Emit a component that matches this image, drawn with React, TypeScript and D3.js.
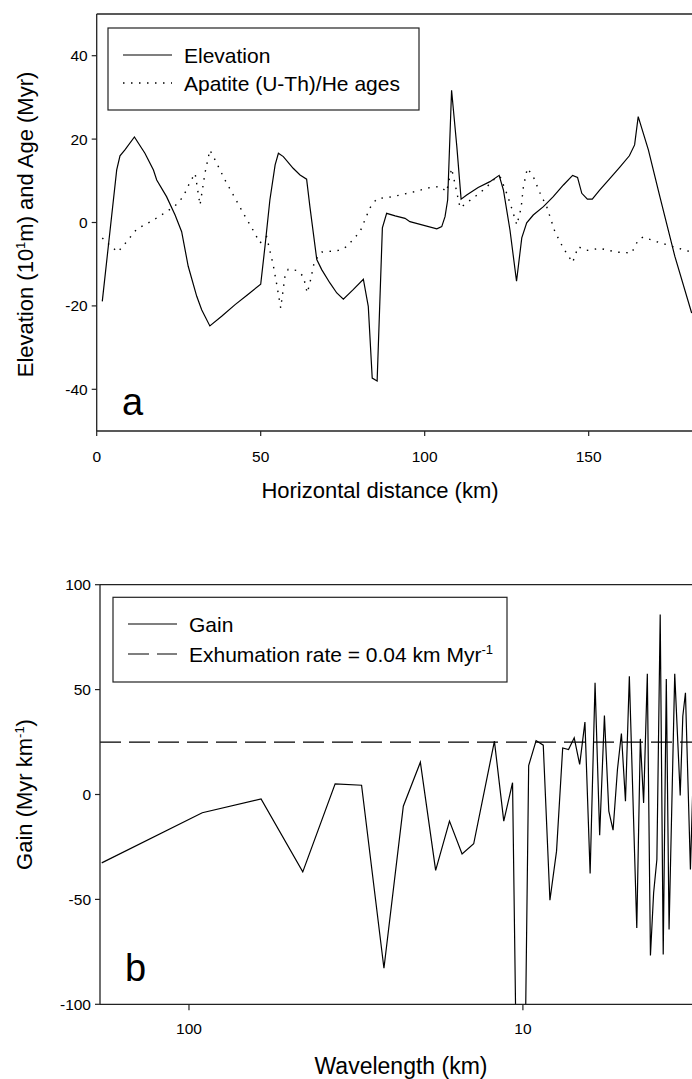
import React from 'react';
import * as d3 from 'd3';

// panel a: elevation profile (10^1 m) and apatite (U-Th)/He ages (Myr) vs distance (km)
const elevDistance = [1.7, 6.1, 7.1, 8.6, 11.5, 14.7, 17.3, 18.3, 21.3, 23.9, 25.9, 27.9, 30.5, 32, 34.5, 38.1, 42.2, 46.2, 50, 51.3, 52.8, 54.4, 55.4, 56.9, 59.9, 62, 64, 65, 67.1, 68.6, 71.1, 73.2, 75.2, 78.2, 81.3, 82.8, 84, 85.5, 87.1, 88.4, 91, 94, 95.5, 103.7, 105.2, 106.2, 107, 108.2, 109.8, 111.1, 112.8, 116.3, 119.9, 122.7, 124, 126, 128, 129.6, 131.1, 133.1, 136.2, 139.2, 142.3, 145.1, 146.6, 147.9, 149.6, 151.1, 153.4, 156.5, 159.5, 162.4, 164, 165.1, 168.2, 171.7, 176.3, 181.4];
const elevation = [-18.9, 12.6, 16.0, 17.4, 20.5, 16.6, 12.6, 10.2, 6.2, 1.8, -2.2, -10.5, -17.7, -20.9, -24.8, -22.5, -19.7, -17.2, -14.8, -5.8, 5.4, 13.8, 16.6, 15.8, 13, 11.4, 10.4, 3.8, -8.9, -11.3, -14.5, -16.9, -18.4, -16.1, -13.6, -20.1, -37.3, -38, -1.3, 2.2, 1.6, 1.0, 0.2, -1.5, -1.0, 1.4, 5.4, 31.7, 18.2, 5.6, 6.6, 8.4, 9.8, 11.3, 7.8, -1.8, -14.1, -3.7, -0.1, 1.8, 3.8, 6.2, 9, 11.3, 10.8, 7.0, 5.6, 5.6, 7.8, 10.6, 13.3, 16, 18.6, 25.4, 17.4, 6.2, -8.2, -21.7];

const ageDistance = [1.7, 4.1, 6.4, 8.4, 12.2, 17.3, 21.3, 23.9, 26.4, 28.4, 30, 31.5, 33, 34.5, 36.1, 39.1, 42.2, 44.7, 47.3, 49.8, 51.8, 53.8, 54.9, 56.1, 57.4, 58.4, 61, 63, 64.2, 65, 66.4, 68.6, 73.7, 76.2, 80.3, 83.3, 85.4, 90.4, 92.5, 97, 102.1, 104.7, 106.7, 108.2, 109.2, 110.8, 113.3, 116, 118.9, 120.9, 123, 125, 126.5, 128.1, 129.4, 130.1, 131.3, 133.1, 135.2, 137.2, 139.7, 142.3, 145.1, 146.8, 149.4, 153.4, 158.5, 163.1, 165.1, 166.6, 170.7, 175.8, 181.4];
const ages = [-3.7, -5.5, -7.1, -5.3, -1.6, 0.6, 2.6, 4, 6.2, 9.6, 11.8, 4.2, 11.8, 17.4, 15, 10.2, 5.8, 2.2, -1.3, -4.9, -3.4, -10.1, -14.9, -20.5, -12.9, -11.2, -11.5, -12.9, -16.9, -14.5, -9.3, -7.1, -6.7, -5.8, -2.2, 3.5, 5.7, 6.2, 6.6, 7.4, 8.5, 8.6, 7.4, 13.0, 9.4, 3.5, 5, 6.6, 8.5, 10.2, 11.0, 7.0, 3.5, -0.6, 3.5, 8.6, 13.0, 11, 7.0, 3.8, -2.2, -6.2, -9.6, -5.8, -6.7, -6.2, -7.1, -7.3, -4.2, -3.5, -4.6, -5.8, -7.1];

// panel b: gain (Myr km^-1) vs wavelength (km)
const wavelength = [182.5, 91.25, 60.83, 45.63, 36.5, 30.42, 26.07, 22.81, 20.28, 18.25, 16.59, 15.21, 14.04, 12.17, 11.41, 10.74, 10.14, 9.61, 9.13, 8.69, 8.30, 7.93, 7.60, 7.30, 7.02, 6.76, 6.52, 6.29, 6.08, 5.89, 5.70, 5.53, 5.37, 5.21, 5.07, 4.93, 4.80, 4.56, 4.45, 4.35, 4.24, 4.15, 4.06, 3.97, 3.88, 3.80, 3.72, 3.65, 3.51, 3.38, 3.32, 3.26, 3.15, 3.09];
const gain = [-32.6, -8.7, -2.1, -36.9, 5.1, 4.4, -82.8, -5.6, 15.4, -36.2, -12.7, -28.3, -23.5, 25.4, -12.7, 5.6, -290, 13.8, 25.7, 23.5, -50.4, -27.0, 22.2, 21.4, 27.0, 14.3, 34.5, -37.7, 53.2, -19.4, 37.7, -7.9, -17, 11.9, 29.1, -3.2, 56.4, -63.6, 26.5, -4, 57.5, -76.7, -46.9, -31, 85.8, -76.3, 55.1, -64.3, 57.5, -0.5, 37.3, 48.5, -35.7, 10];
const exhumationGain = 25;

const topXTicks = [0, 50, 100, 150];
const topYTicks = [-40, -20, 0, 20, 40];
const botXTicks = [100, 10];
const botYTicks = [-100, -50, 0, 50, 100];

const W = 692;
const H = 1079;
const FONT = 'Arial, "Liberation Sans", Helvetica, sans-serif';
const AXIS = '#222';

const pa = { left: 96.7, right: 692, top: 14, bottom: 431 };
const pb = { left: 100, right: 692, top: 584.7, bottom: 1004.3 };

export default function App() {
  const xa = d3.scaleLinear().domain([0, 181.5]).range([pa.left, pa.right]);
  const ya = d3.scaleLinear().domain([-50, 50]).range([pa.bottom, pa.top]);
  const xb = d3.scaleLog().domain([184.7, 3.116]).range([pb.left, pb.right]);
  const yb = d3.scaleLinear().domain([-100, 100]).range([pb.bottom, pb.top]);

  const elevLine = d3.line<number>().x((_, i) => xa(elevDistance[i])).y(d => ya(d));
  const ageLine = d3.line<number>().x((_, i) => xa(ageDistance[i])).y(d => ya(d));
  const gainLine = d3.line<number>().x((_, i) => xb(wavelength[i])).y(d => yb(d));

  const tickFont = 15.5;
  const labelFont = 22;
  const legendFont = 21;

  return (
    <svg width={W} height={H} style={{ position: 'absolute', left: 0, top: 0, background: '#fff' }} fontFamily={FONT}>
      <defs>
        <clipPath id="clipA"><rect x={pa.left} y={pa.top} width={pa.right - pa.left} height={pa.bottom - pa.top} /></clipPath>
        <clipPath id="clipB"><rect x={pb.left} y={pb.top} width={pb.right - pb.left} height={pb.bottom - pb.top} /></clipPath>
      </defs>

      {/* ---------- panel a ---------- */}
      <g clipPath="url(#clipA)" fill="none" stroke="#000" strokeWidth={1.2}>
        <path d={elevLine(elevation) || ''} />
        <path d={ageLine(ages) || ''} strokeDasharray="1.5,6.5" strokeWidth={1.4} />
      </g>
      <line x1={pa.left} x2={pa.right} y1={pa.top} y2={pa.top} stroke={AXIS} strokeWidth={1.3} />
      <line x1={pa.left} x2={pa.left} y1={pa.top} y2={pa.bottom} stroke={AXIS} strokeWidth={1.3} />
      <line x1={pa.left} x2={pa.right} y1={pa.bottom} y2={pa.bottom} stroke={AXIS} strokeWidth={1.3} />
      {topYTicks.map(t => (
        <g key={'ya' + t}>
          <line x1={pa.left - 5} x2={pa.left} y1={ya(t)} y2={ya(t)} stroke={AXIS} strokeWidth={1.2} />
          <text x={pa.left - 9} y={ya(t)} dy="0.35em" textAnchor="end" fontSize={tickFont}>{t}</text>
        </g>
      ))}
      {topXTicks.map(t => (
        <g key={'xa' + t}>
          <line x1={xa(t)} x2={xa(t)} y1={pa.bottom} y2={pa.bottom + 5} stroke={AXIS} strokeWidth={1.2} />
          <text x={xa(t)} y={pa.bottom + 26} dy="0.35em" textAnchor="middle" fontSize={tickFont}>{t}</text>
        </g>
      ))}
      <text x={380} y={498} textAnchor="middle" fontSize={labelFont}>Horizontal distance (km)</text>
      <text transform={`translate(33,${(pa.top + pa.bottom) / 2 + 2}) rotate(-90)`} textAnchor="middle" fontSize={labelFont}>
        Elevation (10<tspan dy={-8} fontSize={13}>1</tspan><tspan dy={8}>m) and Age (Myr)</tspan>
      </text>
      <text x={122} y={415} fontSize={38}>a</text>

      {/* legend a */}
      <rect x={108} y={28} width={311} height={82} fill="#fff" stroke={AXIS} strokeWidth={1.2} />
      <line x1={123} x2={172} y1={55} y2={55} stroke="#000" strokeWidth={1.2} />
      <text x={184} y={63} fontSize={legendFont}>Elevation</text>
      <line x1={123} x2={172} y1={83} y2={83} stroke="#000" strokeWidth={1.4} strokeDasharray="1.5,6.5" />
      <text x={184} y={91} fontSize={legendFont}>Apatite (U-Th)/He ages</text>

      {/* ---------- panel b ---------- */}
      <g clipPath="url(#clipB)" fill="none" stroke="#000" strokeWidth={1.2}>
        <line x1={pb.left} x2={pb.right} y1={yb(exhumationGain)} y2={yb(exhumationGain)} strokeDasharray="21,8" />
        <path d={gainLine(gain) || ''} />
      </g>
      <line x1={pb.left} x2={pb.right} y1={pb.top} y2={pb.top} stroke={AXIS} strokeWidth={1.3} />
      <line x1={pb.left} x2={pb.left} y1={pb.top} y2={pb.bottom} stroke={AXIS} strokeWidth={1.3} />
      <line x1={pb.left} x2={pb.right} y1={pb.bottom} y2={pb.bottom} stroke={AXIS} strokeWidth={1.3} />
      {botYTicks.map(t => (
        <g key={'yb' + t}>
          <line x1={pb.left - 5} x2={pb.left} y1={yb(t)} y2={yb(t)} stroke={AXIS} strokeWidth={1.2} />
          <text x={pb.left - 9} y={yb(t)} dy="0.35em" textAnchor="end" fontSize={tickFont}>{t}</text>
        </g>
      ))}
      {botXTicks.map(t => (
        <g key={'xb' + t}>
          <line x1={xb(t)} x2={xb(t)} y1={pb.bottom} y2={pb.bottom + 6} stroke={AXIS} strokeWidth={1.2} />
          <text x={xb(t)} y={pb.bottom + 24} dy="0.35em" textAnchor="middle" fontSize={tickFont}>{t}</text>
        </g>
      ))}
      <text x={401} y={1074} textAnchor="middle" fontSize={23}>Wavelength (km)</text>
      <text transform={`translate(32,${(pb.top + pb.bottom) / 2}) rotate(-90)`} textAnchor="middle" fontSize={labelFont}>
        Gain (Myr km<tspan dy={-8} fontSize={13}>-1</tspan><tspan dy={8}>)</tspan>
      </text>
      <text x={125} y={981} fontSize={38}>b</text>

      {/* legend b */}
      <rect x={113} y={597.3} width={394} height={84.7} fill="#fff" stroke={AXIS} strokeWidth={1.2} />
      <line x1={128} x2={177} y1={624} y2={624} stroke="#000" strokeWidth={1.2} />
      <text x={189} y={632} fontSize={legendFont}>Gain</text>
      <line x1={128} x2={177} y1={654} y2={654} stroke="#000" strokeWidth={1.2} strokeDasharray="21,8" />
      <text x={189} y={662} fontSize={legendFont}>
        Exhumation rate = 0.04 km Myr<tspan dy={-8} fontSize={13}>-1</tspan>
      </text>
    </svg>
  );
}
